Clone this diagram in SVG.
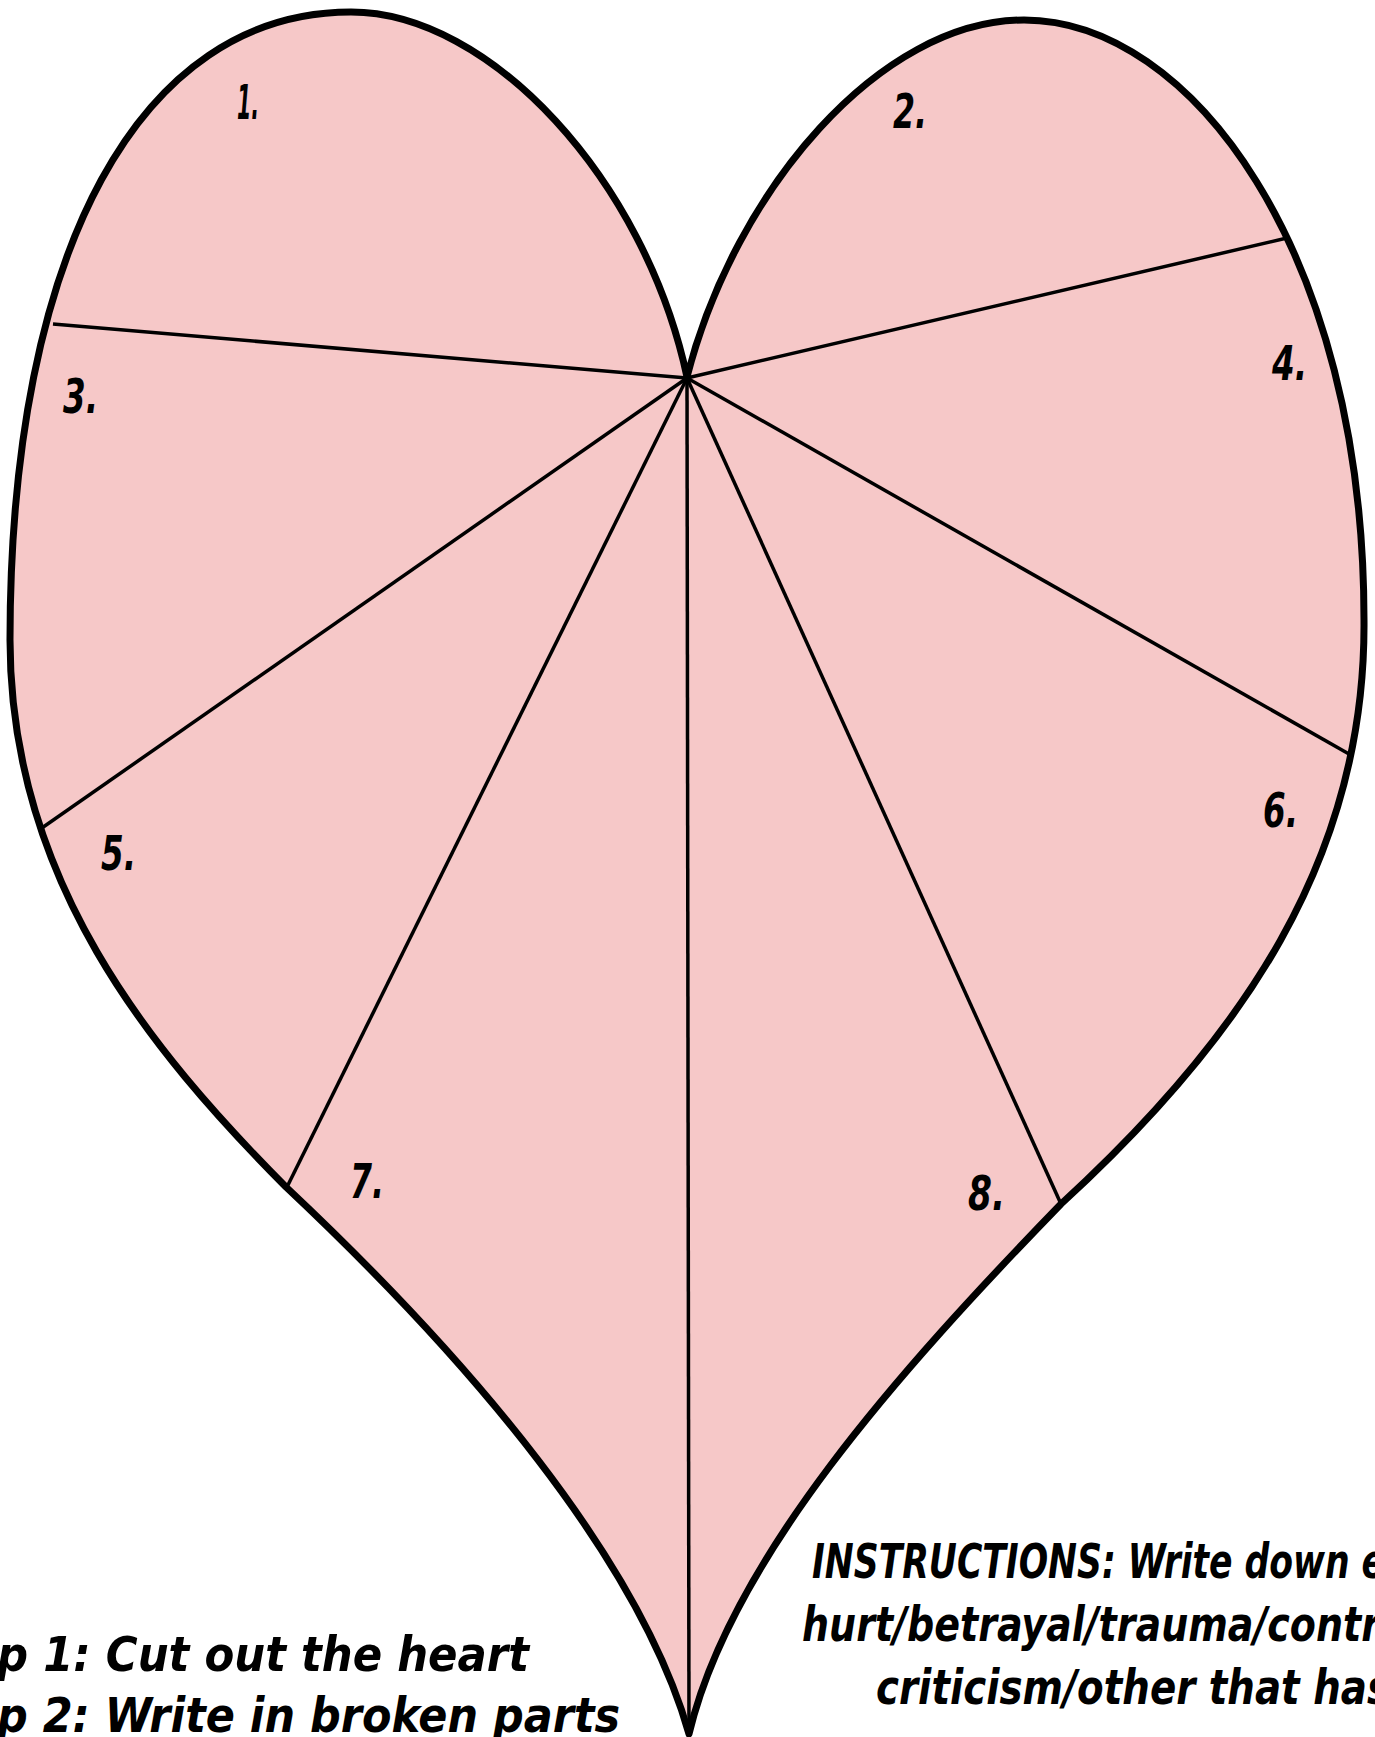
<svg xmlns="http://www.w3.org/2000/svg" width="1375" height="1737" viewBox="0 0 1375 1737">
  <style>
    .heart { fill: #F6C8C8; stroke: none; }
    .outline { fill: none; stroke: #000; stroke-width: 7; stroke-linejoin: round; }
    .cut { stroke: #000; stroke-width: 3.5; stroke-linecap: butt; }
    .lbl, .txt { font-family: "DejaVu Sans Condensed", "DejaVu Sans", "Liberation Sans", sans-serif; font-stretch: condensed; font-weight: bold; font-style: oblique; fill: #000; }
    .lbl { font-size: 48px; }
    .txt { font-size: 48px; }
  </style>
  <rect width="1375" height="1737" fill="#fff"/>
  <g id="heart-fill">
    <path class="heart" d="M 687 377 C 645 180 490 12 351 12 C 140 12 10 250 10 640 C 10 880 150 1050 286 1187 C 470 1360 640 1560 689 1734 C 730 1560 900 1370 1061 1204 C 1240 1040 1366 860 1364 620 C 1364 250 1190 20 1024 20 C 880 20 735 190 687 377 Z"/>
  </g>
  <g id="connectors">
    <line class="cut" x1="687" y1="378" x2="53" y2="324"/>
    <line class="cut" x1="687" y1="378" x2="1287" y2="238"/>
    <line class="cut" x1="687" y1="378" x2="39" y2="830"/>
    <line class="cut" x1="687" y1="378" x2="287" y2="1187"/>
    <line class="cut" x1="687" y1="378" x2="689" y2="1734"/>
    <line class="cut" x1="687" y1="378" x2="1061" y2="1204"/>
    <line class="cut" x1="687" y1="378" x2="1349" y2="754"/>
  </g>
  <g id="heart-outline">
    <path class="outline" d="M 687 377 C 645 180 490 12 351 12 C 140 12 10 250 10 640 C 10 880 150 1050 286 1187 C 470 1360 640 1560 689 1734 C 730 1560 900 1370 1061 1204 C 1240 1040 1366 860 1364 620 C 1364 250 1190 20 1024 20 C 880 20 735 190 687 377 Z"/>
  </g>
  <g id="part-1"><text class="lbl" x="237" y="119" textLength="22" lengthAdjust="spacingAndGlyphs">1.</text></g>
  <g id="part-2"><text class="lbl" x="893" y="128" textLength="34" lengthAdjust="spacingAndGlyphs">2.</text></g>
  <g id="part-3"><text class="lbl" x="63" y="413" textLength="35" lengthAdjust="spacingAndGlyphs">3.</text></g>
  <g id="part-4"><text class="lbl" x="1272" y="380" textLength="35" lengthAdjust="spacingAndGlyphs">4.</text></g>
  <g id="part-5"><text class="lbl" x="101" y="870" textLength="35" lengthAdjust="spacingAndGlyphs">5.</text></g>
  <g id="part-6"><text class="lbl" x="1263" y="827" textLength="35" lengthAdjust="spacingAndGlyphs">6.</text></g>
  <g id="part-7"><text class="lbl" x="350" y="1198" textLength="34" lengthAdjust="spacingAndGlyphs">7.</text></g>
  <g id="part-8"><text class="lbl" x="968" y="1210" textLength="37" lengthAdjust="spacingAndGlyphs">8.</text></g>
  <g id="steps">
    <text class="txt" x="-3" y="1671" textLength="532" lengthAdjust="spacingAndGlyphs">p 1: Cut out the heart</text>
    <text class="txt" x="-3" y="1732" textLength="623" lengthAdjust="spacingAndGlyphs">p 2: Write in broken parts</text>
  </g>
  <g id="instructions">
    <text class="txt" x="812" y="1578" textLength="573" lengthAdjust="spacingAndGlyphs">INSTRUCTIONS: Write down e</text>
    <text class="txt" x="802" y="1641" textLength="578" lengthAdjust="spacingAndGlyphs">hurt/betrayal/trauma/contr</text>
    <text class="txt" x="876" y="1704" textLength="514" lengthAdjust="spacingAndGlyphs">criticism/other that has</text>
  </g>
</svg>
